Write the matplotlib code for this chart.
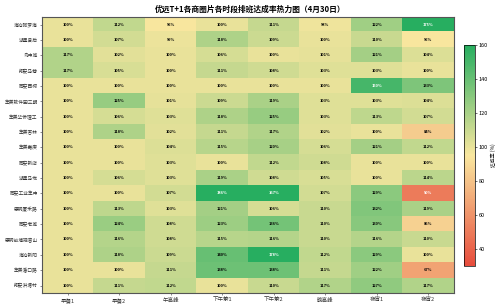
import numpy as np
import matplotlib.pyplot as plt
from matplotlib.colors import LinearSegmentedColormap

plt.rcParams['font.family'] = ['Noto Sans CJK SC', 'DejaVu Sans']

stores = ['海沧阿罗海', '湖里县后', '岛中城', '翔安马巷', '同安西柯', '集美软件园三期',
          '集美华侨理工', '集美杏林', '集美嘉庚', '同安新店', '湖里马垅', '同安工业集中',
          '思明厦禾路', '同安老城', '思明前埔观音山', '海沧新阳', '集美潘口路', '翔安洪塘村']
slots = ['早餐1', '早餐2', '午高峰', '下午茶1', '下午茶2', '晚高峰', '夜宵1', '夜宵2']

rates = np.array([
    [100, 112, 95, 100, 111, 98, 122, 175],
    [100, 107, 99, 118, 109, 100, 110, 95],
    [117, 102, 100, 106, 100, 101, 121, 104],
    [117, 105, 100, 111, 108, 103, 103, 100],
    [100, 100, 100, 100, 100, 100, 150, 133],
    [100, 125, 101, 109, 119, 103, 103, 104],
    [100, 106, 103, 118, 125, 103, 113, 107],
    [100, 118, 102, 111, 117, 102, 100, 84],
    [100, 100, 104, 115, 120, 106, 121, 112],
    [100, 100, 103, 100, 112, 108, 100, 100],
    [100, 106, 103, 119, 108, 105, 100, 114],
    [100, 100, 107, 186, 167, 107, 129, 50],
    [100, 113, 103, 121, 106, 110, 132, 119],
    [100, 124, 108, 123, 136, 110, 130, 86],
    [100, 116, 108, 115, 116, 110, 116, 110],
    [100, 118, 109, 140, 178, 112, 129, 100],
    [100, 100, 111, 138, 138, 111, 122, 67],
    [100, 111, 112, 100, 110, 117, 127, 117],
])

cmap = LinearSegmentedColormap.from_list('ryg', ['#e74c3c', '#f9e79f', '#27ae60'])

fig = plt.figure(figsize=(5, 3.07), dpi=100)
ax = fig.add_axes([0.084, 0.045, 0.824, 0.9])
cax = fig.add_axes([0.928, 0.134, 0.022, 0.72])

im = ax.imshow(rates, cmap=cmap, vmin=30, vmax=160, aspect='auto', interpolation='nearest')

# cell labels
for i in range(rates.shape[0]):
    for j in range(rates.shape[1]):
        v = rates[i, j]
        c = 'white' if (v > 145 or v < 60) else 'black'
        ax.text(j, i, f'{v}%', ha='center', va='center', fontsize=2.8,
                fontweight='bold', color=c)

ax.set_xticks(range(len(slots)))
ax.set_xticklabels(slots, fontsize=4)
ax.set_yticks(range(len(stores)))
ax.set_yticklabels(stores, fontsize=3.4)
ax.tick_params(length=1.5, width=0.4, pad=1.5, colors='#333333')
for s in ax.spines.values():
    s.set_linewidth(0.8)
    s.set_color('#555555')

cb = fig.colorbar(im, cax=cax)
cb.set_ticks([40, 60, 80, 100, 120, 140, 160])
cb.ax.tick_params(labelsize=4, length=1.5, width=0.4, pad=1)
cb.outline.set_linewidth(0.5)
cb.set_label('达成率 (%)', fontsize=3.5, labelpad=2)

fig.suptitle('优远T+1各商圈片各时段排班达成率热力图（4月30日）', fontsize=5.6,
             fontweight='bold', y=0.985)

fig.savefig('out.png', dpi=100)
